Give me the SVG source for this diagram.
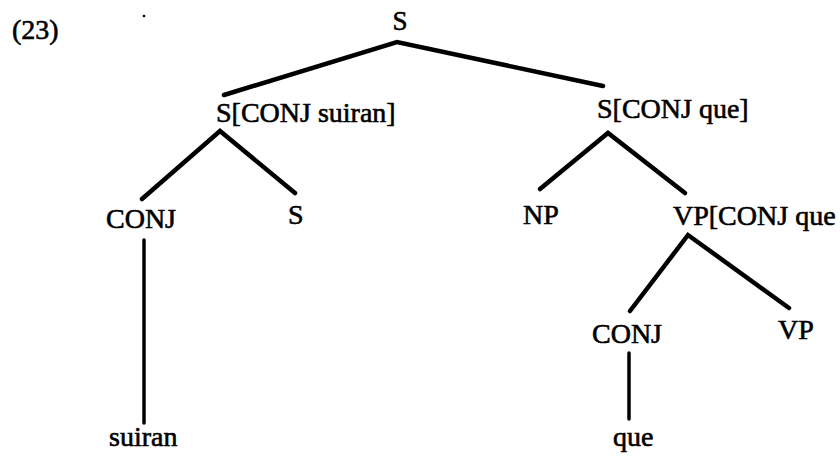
<svg xmlns="http://www.w3.org/2000/svg" width="840" height="459" viewBox="0 0 840 459">
<style>
text{font-family:"Liberation Serif","Times New Roman",serif;font-size:28px;fill:#000;stroke:#000;stroke-width:0.6}
.e{stroke:#000;stroke-width:4.5;stroke-linecap:round;fill:none}
.v{stroke:#000;stroke-width:3.5;stroke-linecap:round;fill:none}
</style>
<rect width="840" height="459" fill="#fff"/>
<text x="12" y="39">(23)</text>
<circle cx="144" cy="16" r="1.3" fill="#000"/>
<g id="connectors">
<path class="e" d="M224 95 L397 42 L603 86"/>
<path class="e" d="M142 199 L220 131 L295 193"/>
<path class="e" d="M540 189 L608 133 L685 193"/>
<path class="e" d="M630 311 L688 235 L789 308"/>
<path class="v" d="M144 240 V423"/>
<path class="v" d="M629 353 V419"/>
</g>
<g id="n-root"><text x="400" y="30" text-anchor="middle" style="font-size:27px">S</text></g>
<g id="n-ssuiran"><text x="216" y="122">S[CONJ suiran]</text></g>
<g id="n-sque"><text x="597" y="118">S[CONJ que]</text></g>
<g id="n-conj1"><text x="106" y="228">CONJ</text></g>
<g id="n-s2"><text x="288" y="224">S</text></g>
<g id="n-np"><text x="523" y="224">NP</text></g>
<g id="n-vp1"><text x="673" y="225">VP[CONJ que</text></g>
<g id="n-conj2"><text x="592" y="343">CONJ</text></g>
<g id="n-vp2"><text x="778" y="339">VP</text></g>
<g id="n-suiran"><text x="109" y="446">suiran</text></g>
<g id="n-que"><text x="613" y="446">que</text></g>
</svg>
